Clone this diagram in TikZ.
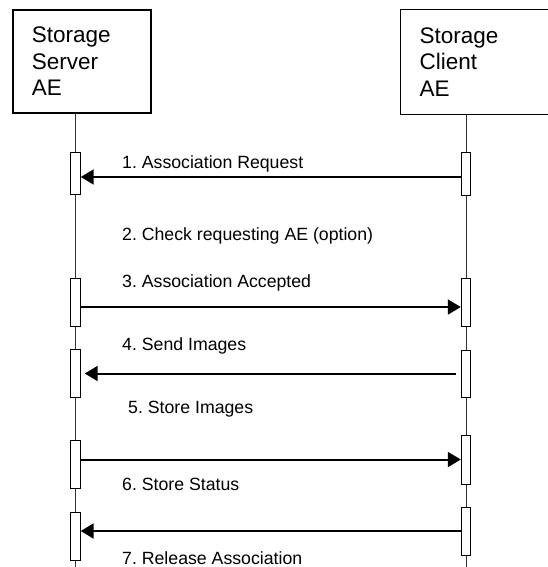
\documentclass[tikz,border=0pt]{standalone}
\usepackage{fontspec}
\setmainfont{Liberation Sans}
\frenchspacing
\usetikzlibrary{arrows.meta,positioning,calc}
\definecolor{sqink}{HTML}{000000}
\definecolor{sqline}{HTML}{333333}

\begin{document}
\begin{tikzpicture}[x=1pt,y=-1pt,
    aebox/.style={draw=sqink,rectangle,minimum height=103pt,inner xsep=19pt,
      align=left,font=\fontsize{22.5}{26.7}\selectfont},
    actbar/.style={draw=sqink,fill=white,line width=0.9pt,rectangle,inner sep=0pt,
      minimum width=9.5pt,minimum height=48pt},
    lifeline/.style={draw=sqline,line width=0.9pt},
    msg/.style={draw=sqink,line width=2pt,-{Triangle[length=13pt,width=15pt]}},
    msglabel/.style={anchor=west,inner sep=0pt,font=\fontsize{17.7}{21}\selectfont}]
  \useasboundingbox (0,0) rectangle (548,567);
  \clip (0,0) rectangle (548,567);

  % application entities
  \node[aebox,line width=1.8pt,text width=100pt,anchor=north west] (server) at (12,9) {Storage\\Server\\AE};
  \node[aebox,line width=1.1pt,text width=122pt,anchor=north west,minimum height=105pt] (client) at (400,9) {Storage\\Client\\AE};

  % lifelines
  \coordinate (sEnd) at (75.5,567);
  \coordinate (cEnd) at (466,567);
  \draw[lifeline] (server.south -| sEnd) -- (sEnd);
  \draw[lifeline] (client.south -| cEnd) -- (cEnd);

  % activation bars
  \node[actbar,minimum height=42pt] (s1) at (75.5,173) {};
  \node[actbar,minimum height=43pt] (c1) at (466,173.5) {};
  \node[actbar] (s3) at (75.5,302) {};
  \node[actbar] (c3) at (466,302) {};
  \node[actbar] (s4) at (75.5,373) {};
  \node[actbar,minimum height=47pt] (c4) at (466,373.5) {};
  \node[actbar] (s5) at (75.5,464) {};
  \node[actbar,minimum height=49pt] (c5) at (466,459.5) {};
  \node[actbar] (s6) at (75.5,536) {};
  \node[actbar] (c6) at (466,531) {};

  % messages
  \draw[msg] ([yshift=-3.5pt]c1.west) -- ([yshift=-3.5pt]c1.west -| s1.east);
  \draw[msg] ([yshift=-5pt]s3.east) -- ([yshift=-5pt]s3.east -| c3.west);
  \draw[msg,shorten <=5pt,shorten >=4pt] (c4.west) -- (c4.west -| s4.east);
  \draw[msg] (s5.east |- c5.west) -- (c5.west);
  \draw[msg] (c6.west) -- (c6.west -| s6.east);

  % labels
  \node[msglabel] (l1) at (122,164) {1. Association Request};
  \node[msglabel] (l2) at (122,236) {2. Check requesting AE (option)};
  \node[msglabel] (l3) at (122,283) {3. Association Accepted};
  \node[msglabel] (l4) at (122,346) {4. Send Images};
  \node[msglabel] (l5) at (128,409) {5. Store Images};
  \node[msglabel] (l6) at (122,484) {6. Store Status};
  \node[msglabel] (l7) at (122,558) {7. Release Association};
\end{tikzpicture}
\end{document}
